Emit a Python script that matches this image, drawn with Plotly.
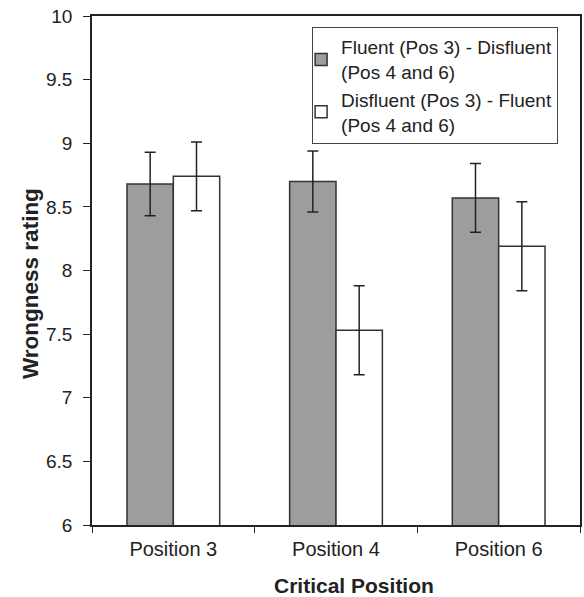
import plotly.graph_objects as go

categories = ["Position 3", "Position 4", "Position 6"]
series_names = ["Fluent (Pos 3) - Disfluent<br>(Pos 4 and 6)",
                "Disfluent (Pos 3) - Fluent<br>(Pos 4 and 6)"]
fluent_first = [8.68, 8.70, 8.57]
fluent_first_err = [0.25, 0.24, 0.27]
disfluent_first = [8.74, 7.53, 8.19]
disfluent_first_err = [0.27, 0.35, 0.35]
y_ticks = [6, 6.5, 7, 7.5, 8, 8.5, 9, 9.5, 10]
y_tick_labels = ["6", "6.5", "7", "7.5", "8", "8.5", "9", "9.5", "10"]
x_title = "Critical Position"
y_title = "Wrongness rating"

err_style = dict(type="data", visible=True, color="#222222", thickness=1.5, width=5.5)

fig = go.Figure()
fig.add_trace(go.Bar(
    x=categories, y=fluent_first, name=series_names[0],
    marker=dict(color="#9c9e9c", line=dict(color="#333333", width=1.5)),
    error_y=dict(array=fluent_first_err, **err_style),
))
fig.add_trace(go.Bar(
    x=categories, y=disfluent_first, name=series_names[1],
    marker=dict(color="#ffffff", line=dict(color="#333333", width=1.5)),
    error_y=dict(array=disfluent_first_err, **err_style),
))

fig.update_layout(
    width=584, height=597,
    margin=dict(l=92, r=4, t=16, b=72, autoexpand=False),
    paper_bgcolor="white", plot_bgcolor="white",
    barmode="group", bargap=0.43, bargroupgap=0,
    font=dict(family="Liberation Sans, Arial, sans-serif", size=19, color="#222222"),
    showlegend=True,
    legend=dict(
        x=0.451, y=0.978, xanchor="left", yanchor="top",
        bgcolor="white", bordercolor="#444444", borderwidth=1,
        font=dict(size=19, color="#222222"),
        itemwidth=30, indentation=-12,
    ),
    xaxis=dict(
        type="category", automargin=False,
        showline=True, linecolor="#222222", linewidth=1.5, mirror=True,
        ticks="outside", tickson="boundaries", ticklen=6, tickcolor="#222222",
        showgrid=False, ticklabelstandoff=5,
        tickfont=dict(size=20),
    ),
    yaxis=dict(
        range=[6, 10], tickvals=y_ticks, ticktext=y_tick_labels, automargin=False,
        showline=True, linecolor="#222222", linewidth=1.5, mirror=True,
        ticks="outside", ticklen=7, tickcolor="#222222",
        showgrid=False, zeroline=False,
        ticklabeloverflow="allow", ticklabelstandoff=7,
        tickfont=dict(size=19),
    ),
    annotations=[
        dict(text="<b>" + x_title + "</b>", xref="paper", yref="paper",
             x=0.537, y=-0.118, xanchor="center", yanchor="middle",
             showarrow=False, font=dict(size=21, color="#222222")),
        dict(text="<b>" + y_title + "</b>", xref="paper", yref="paper",
             x=-0.125, y=0.4735, xanchor="center", yanchor="middle",
             textangle=-90, showarrow=False, font=dict(size=22.5, color="#222222")),
    ],
)

fig.write_html("out.html", config={"displayModeBar": False},
               post_script="document.body.style.margin='0';")
